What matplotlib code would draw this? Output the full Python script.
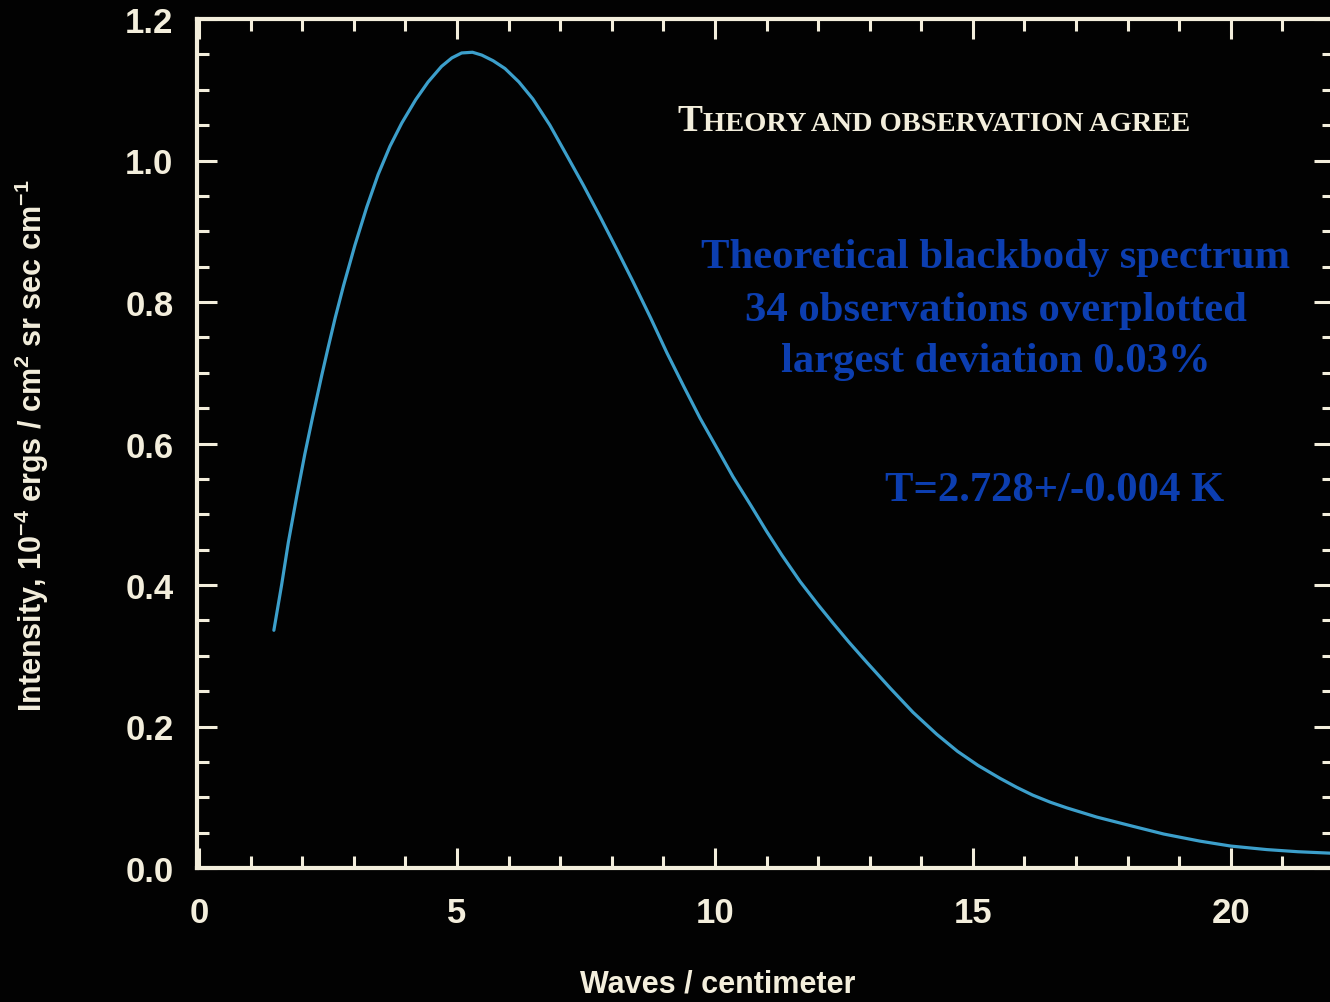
import matplotlib
matplotlib.use("Agg")
import matplotlib.pyplot as plt
from matplotlib.ticker import MultipleLocator, FormatStrFormatter

# values
wavenumber = [1.45, 1.6, 1.73, 1.9, 2.05, 2.2, 2.38, 2.5, 2.64, 2.8, 3.02, 3.25, 3.47, 3.7,
              3.93, 4.2, 4.44, 4.7, 4.9, 5.09, 5.3, 5.48, 5.7, 5.93, 6.2, 6.47, 6.8,
              7.13, 7.45, 7.77, 8.1, 8.41, 8.75, 9.07, 9.4, 9.71, 10.05, 10.35, 10.7,
              11.0, 11.3, 11.65, 12.0, 12.29, 12.6, 12.94, 13.4, 13.84, 14.3, 14.7,
              15.1, 15.52, 15.85, 16.16, 16.5, 16.82, 17.4, 18.1, 18.7, 19.4, 20.0,
              20.7, 21.3, 21.92, 22.2]
intensity = [0.336, 0.400, 0.460, 0.528, 0.585, 0.637, 0.697, 0.735, 0.778, 0.823, 0.880, 0.934,
             0.980, 1.020, 1.053, 1.086, 1.111, 1.133, 1.145, 1.152, 1.153, 1.149, 1.141,
             1.130, 1.111, 1.087, 1.050, 1.007, 0.965, 0.921, 0.874, 0.829, 0.778, 0.728,
             0.680, 0.636, 0.592, 0.553, 0.512, 0.476, 0.442, 0.405, 0.372, 0.346, 0.319,
             0.291, 0.254, 0.220, 0.189, 0.165, 0.145, 0.127, 0.114, 0.103, 0.093, 0.085,
             0.072, 0.059, 0.048, 0.038, 0.031, 0.026, 0.023, 0.021, 0.020]

x_ticks = [0, 5, 10, 15, 20]
y_ticks = [0.0, 0.2, 0.4, 0.6, 0.8, 1.0, 1.2]

info_lines = ["Theoretical blackbody spectrum",
              "34 observations overplotted",
              "largest deviation 0.03%"]
temp_text = "T=2.728+/-0.004 K"

W, H = 1330, 1003
bg = "#020202"
fg = "#f3eedc"
blue = "#0c3eb0"

plt.rcParams["font.family"] = "Liberation Sans"
plt.rcParams["font.weight"] = "bold"
plt.rcParams["axes.labelweight"] = "bold"
plt.rcParams["mathtext.fontset"] = "custom"
plt.rcParams["mathtext.bf"] = "Liberation Sans:bold"
plt.rcParams["mathtext.rm"] = "Liberation Sans:bold"
plt.rcParams["mathtext.default"] = "bf"

fig = plt.figure(figsize=(W / 100, H / 100), dpi=100, facecolor=bg)
# axes runs a few pixels past the right edge, like the scanned original
ax = fig.add_axes([197 / W, 134 / H, 1137 / W, 849 / H], facecolor=bg)

ax.plot(wavenumber, intensity, color="#3c9fcb", lw=2.3, solid_capstyle="round")

ax.set_xlim(-0.04, 22.0)
ax.set_ylim(0, 1.2)
ax.set_xticks(x_ticks)
ax.set_yticks(y_ticks)
ax.xaxis.set_minor_locator(MultipleLocator(1))
ax.yaxis.set_minor_locator(MultipleLocator(0.05))
ax.yaxis.set_major_formatter(FormatStrFormatter("%.1f"))

for s in ax.spines.values():
    s.set_color(fg)
    s.set_linewidth(3)

ax.tick_params(which="both", direction="in", top=True, right=True, colors=fg,
               width=2.2, labelsize=25)
ax.tick_params(which="major", length=14.5)
ax.tick_params(which="minor", length=8.5)
ax.tick_params(axis="x", pad=20)
ax.tick_params(axis="y", pad=17)

ax.set_xlabel("Waves / centimeter", fontsize=22, fontweight="bold", color=fg, va="center")
ax.xaxis.set_label_coords((718 - 197) / 1137, (869 - 985) / 849)
ax.set_ylabel("Intensity, 10$^{-4}$ ergs / cm$^{2}$ sr sec cm$^{-1}$",
              fontsize=22, fontweight="bold", color=fg, va="center")
ax.yaxis.set_label_coords((32 - 197) / 1137, (869 - 446) / 849)

# small caps heading
t1 = fig.text(677 / W, 1 - 139 / H, "T", fontsize=27, color=fg,
              family="Liberation Serif", weight="bold", va="bottom", ha="left")
ax.annotate("HEORY AND OBSERVATION AGREE", xy=(1, 0), xycoords=t1,
            xytext=(0.5, 1.4), textcoords="offset points",
            fontsize=20.5, color=fg, family="Liberation Serif", weight="bold",
            va="bottom", ha="left", annotation_clip=False)

line_y = [258, 311, 362]
for line, y in zip(info_lines, line_y):
    fig.text(996 / W, 1 - y / H, line, fontsize=30.7, color=blue,
             family="Liberation Serif", weight="bold", ha="center", va="center")
fig.text(1055 / W, 1 - 491 / H, temp_text, fontsize=30.7, color=blue,
         family="Liberation Serif", weight="bold", ha="center", va="center")

fig.savefig("out.png", dpi=100, facecolor=bg)
